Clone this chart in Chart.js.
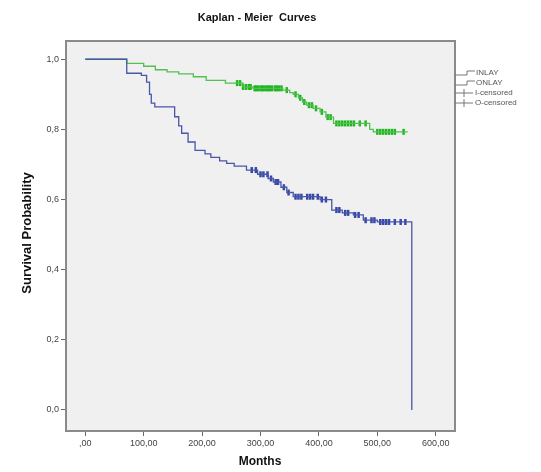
<!DOCTYPE html>
<html>
<head>
<meta charset="utf-8">
<script src="https://cdn.jsdelivr.net/npm/chart.js@4"></script>
<style>
  html, body { margin: 0; padding: 0; background: #fff; }
  #wrap { position: relative; width: 541px; height: 472px; }
</style>
</head>
<body>
<div id="wrap"><canvas id="kmChart" width="541" height="472"></canvas></div>
<script>
// step points: time (months) of each drop and survival after it
const inlayTimes = [0, 71, 96, 105, 110, 113, 119, 153, 160, 165, 176, 188, 205, 215, 230, 242, 255, 276, 295, 313, 322, 335, 345, 356, 402, 422, 440, 459, 476, 500, 559];
const inlayProbs = [1.0, 0.96, 0.954, 0.935, 0.9, 0.875, 0.864, 0.836, 0.81, 0.789, 0.764, 0.74, 0.73, 0.72, 0.71, 0.703, 0.695, 0.684, 0.672, 0.66, 0.65, 0.635, 0.62, 0.608, 0.6, 0.57, 0.562, 0.556, 0.541, 0.536, 0.0];
const onlayTimes = [0, 71, 100, 120, 140, 160, 185, 207, 240, 270, 287, 338, 350, 356, 365, 372, 379, 390, 402, 412, 425, 487, 493, 552];
const onlayProbs = [1.0, 0.988, 0.98, 0.97, 0.964, 0.958, 0.95, 0.94, 0.932, 0.921, 0.917, 0.912, 0.905, 0.9, 0.89, 0.878, 0.869, 0.86, 0.85, 0.835, 0.817, 0.8, 0.793, 0.793];

// censored observations (months)
const inlayCensored = [285, 292, 300, 305, 312, 318, 326, 330, 340, 348, 360, 365, 370, 380, 385, 390, 398, 405, 412, 430, 435, 445, 450, 462, 468, 480, 490, 495, 505, 510, 515, 520, 530, 540, 548];
const onlayCensored = [260, 265, 270, 275, 280, 283, 290, 293, 296, 300, 303, 306, 310, 313, 316, 320, 325, 328, 332, 336, 345, 360, 368, 375, 383, 388, 395, 405, 415, 420, 430, 435, 440, 445, 450, 455, 460, 470, 480, 500, 505, 510, 515, 520, 525, 530, 545];

const xTicks = [0, 100, 200, 300, 400, 500, 600];
const yTicks = [0, 0.2, 0.4, 0.6, 0.8, 1.0];
const legendLabels = ['INLAY', 'ONLAY', 'I-censored', 'O-censored'];

const BLUE = '#4a56a8';
const BLUE_MARK = '#3446a8';
const GREEN = '#52c052';
const GREEN_MARK = '#1fb51f';

function survivalAt(times, probs, t) {
    let s = probs[0];
    for (let i = 0; i < times.length; i++) {
        if (times[i] <= t) s = probs[i];
    }
    return s;
}

const toPts = (times, probs) => times.map((t, i) => ({ x: t, y: probs[i] }));
const censorPts = (cens, times, probs) => cens.map(t => ({ x: t, y: survivalAt(times, probs, t) }));

const PLOT = { left: 66, right: 455, top: 41, bottom: 431 };

const decor = {
    id: 'decor',
    beforeDatasetsDraw(chart) {
        const ctx = chart.ctx;
        const a = chart.chartArea;
        ctx.save();
        ctx.fillStyle = '#f0f0f0';
        ctx.fillRect(a.left, a.top, a.right - a.left, a.bottom - a.top);
        ctx.restore();
    },
    afterDraw(chart) {
        const ctx = chart.ctx;
        const a = chart.chartArea;
        ctx.save();
        ctx.strokeStyle = '#8a8a8a';
        ctx.lineWidth = 2;
        ctx.strokeRect(a.left, a.top, a.right - a.left, a.bottom - a.top);

        ctx.fillStyle = '#111';
        ctx.textAlign = 'center';
        ctx.textBaseline = 'middle';
        ctx.font = 'bold 11px "Liberation Sans", Arial, sans-serif';
        ctx.fillText('Kaplan - Meier  Curves', 257, 18);

        ctx.font = 'bold 12px "Liberation Sans", Arial, sans-serif';
        ctx.fillText('Months', 260, 462);

        ctx.save();
        ctx.translate(27, 233);
        ctx.rotate(-Math.PI / 2);
        ctx.font = 'bold 13px "Liberation Sans", Arial, sans-serif';
        ctx.fillText('Survival Probability', 0, 0);
        ctx.restore();

        // legend
        ctx.font = '8px "Liberation Sans", Arial, sans-serif';
        ctx.textAlign = 'left';
        ctx.fillStyle = '#555';
        ctx.strokeStyle = '#777';
        ctx.lineWidth = 1;
        const rows = [73, 83, 93, 103];
        rows.forEach((y, i) => {
            ctx.beginPath();
            if (i < 2) {
                ctx.moveTo(a.right, y + 2);
                ctx.lineTo(a.right + 12, y + 2);
                ctx.lineTo(a.right + 12, y - 2);
                ctx.lineTo(a.right + 20, y - 2);
            } else {
                ctx.moveTo(a.right, y);
                ctx.lineTo(a.right + 18, y);
                ctx.moveTo(a.right + 9, y - 4);
                ctx.lineTo(a.right + 9, y + 4);
            }
            ctx.stroke();
            ctx.fillText(legendLabels[i], a.right + (i < 2 ? 21 : 20), y);
        });
        ctx.restore();
    }
};

const ctx = document.getElementById('kmChart').getContext('2d');
new Chart(ctx, {
    type: 'scatter',
    data: {
        datasets: [
            {
                label: 'INLAY',
                data: toPts(inlayTimes, inlayProbs),
                showLine: true,
                stepped: 'before',
                borderColor: BLUE,
                borderWidth: 1.3,
                pointRadius: 0
            },
            {
                label: 'ONLAY',
                data: toPts(onlayTimes, onlayProbs),
                showLine: true,
                stepped: 'before',
                borderColor: GREEN,
                borderWidth: 1.3,
                pointRadius: 0
            },
            {
                label: 'I-censored',
                data: censorPts(inlayCensored, inlayTimes, inlayProbs),
                showLine: false,
                pointStyle: 'line',
                rotation: 90,
                pointRadius: 3,
                borderColor: BLUE_MARK,
                borderWidth: 2.5
            },
            {
                label: 'O-censored',
                data: censorPts(onlayCensored, onlayTimes, onlayProbs),
                showLine: false,
                pointStyle: 'line',
                rotation: 90,
                pointRadius: 3,
                borderColor: GREEN_MARK,
                borderWidth: 2.5
            }
        ]
    },
    options: {
        responsive: false,
        animation: false,
        layout: { padding: { left: 0, right: 541 - PLOT.right, top: PLOT.top, bottom: 0 } },
        scales: {
            x: {
                type: 'linear',
                min: -33,
                max: 633,
                afterFit: s => { s.height = 472 - PLOT.bottom; },
                afterBuildTicks: s => { s.ticks = xTicks.map(v => ({ value: v })); },
                ticks: {
                    callback: v => v === 0 ? ',00' : v.toFixed(2).replace('.', ','),
                    color: '#444',
                    font: { size: 9, family: '"Liberation Sans", Arial, sans-serif' },
                    padding: 2,
                    maxRotation: 0
                },
                grid: { drawOnChartArea: false, drawTicks: true, tickLength: 5, color: '#666' },
                border: { display: false }
            },
            y: {
                type: 'linear',
                min: -0.06,
                max: 1.052,
                afterFit: s => { s.width = PLOT.left; },
                afterBuildTicks: s => { s.ticks = yTicks.map(v => ({ value: v })); },
                ticks: {
                    callback: v => v.toFixed(1).replace('.', ','),
                    color: '#444',
                    font: { size: 9, family: '"Liberation Sans", Arial, sans-serif' },
                    padding: 2
                },
                grid: { drawOnChartArea: false, drawTicks: true, tickLength: 5, color: '#666' },
                border: { display: false }
            }
        },
        plugins: {
            legend: { display: false },
            tooltip: { enabled: false }
        }
    },
    plugins: [decor]
});
</script>
</body>
</html>
